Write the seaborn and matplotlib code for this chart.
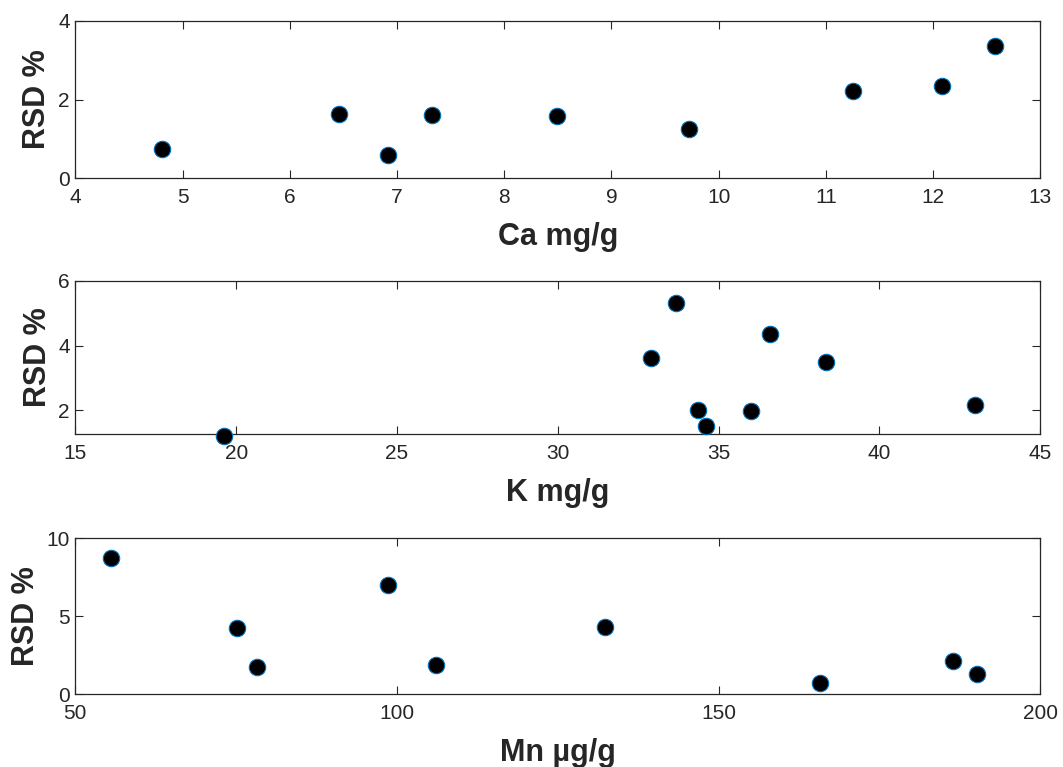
import numpy as np
import pandas as pd
import seaborn as sns
import matplotlib.pyplot as plt

# values
ca_x = [4.81, 6.46, 6.92, 7.33, 8.49, 9.72, 11.25, 12.08, 12.58]
ca_rsd = [0.75, 1.64, 0.58, 1.60, 1.58, 1.26, 2.22, 2.34, 3.36]

k_x = [19.63, 32.90, 33.69, 34.37, 34.61, 36.02, 36.61, 38.34, 42.96]
k_rsd = [1.20, 3.62, 5.31, 2.00, 1.52, 1.98, 4.36, 3.49, 2.16]

mn_x = [55.5, 75.2, 78.3, 98.6, 106.1, 132.3, 165.8, 186.4, 190.1]
mn_rsd = [8.72, 4.27, 1.76, 6.99, 1.90, 4.34, 0.75, 2.14, 1.32]

sns.set_theme(style="ticks")
plt.rcParams['font.family'] = ['Liberation Sans', 'DejaVu Sans']

panels = [
    (ca_x, ca_rsd, 'Ca mg/g', (4, 13), np.arange(4, 14, 1), (0, 4), [0, 2, 4]),
    (k_x, k_rsd, 'K mg/g', (15, 45), np.arange(15, 50, 5), (1.26, 6), [2, 4, 6]),
    (mn_x, mn_rsd, 'Mn µg/g', (50, 200), [50, 100, 150, 200], (0, 10), [0, 5, 10]),
]

fig = plt.figure(figsize=(10.63, 7.67), dpi=100)
left, width = 75.3 / 1063, (1040.3 - 75.3) / 1063
tops = [20.7, 280.7, 538.3]
bots = [178.3, 434.3, 694.3]

dark = '#262626'
for (x, y, xlabel, xlim, xt, ylim, yt), t, b in zip(panels, tops, bots):
    ax = fig.add_axes([left, 1 - b / 767, width, (b - t) / 767])
    df = pd.DataFrame({'x': x, 'RSD': y})
    sns.scatterplot(data=df, x='x', y='RSD', ax=ax, s=140, color='black',
                    edgecolor='#0072BD', linewidth=0.8, clip_on=False, zorder=3)
    ax.set_xlim(*xlim)
    ax.set_ylim(*ylim)
    ax.set_xticks(xt)
    ax.set_yticks(yt)
    ax.tick_params(direction='in', length=6, width=0.8, top=True, right=True,
                   labelsize=15, colors=dark, labelcolor=dark)
    ax.tick_params(axis='x', pad=7)
    ax.tick_params(axis='y', pad=4)
    for sp in ax.spines.values():
        sp.set_visible(True)
        sp.set_color(dark)
        sp.set_linewidth(0.9)
    ax.set_xlabel(xlabel, fontsize=22, fontweight='bold', color=dark, labelpad=11)
    ax.set_ylabel('RSD %', fontsize=22, fontweight='bold', color=dark, labelpad=4)

fig.savefig('out.png', dpi=100)
